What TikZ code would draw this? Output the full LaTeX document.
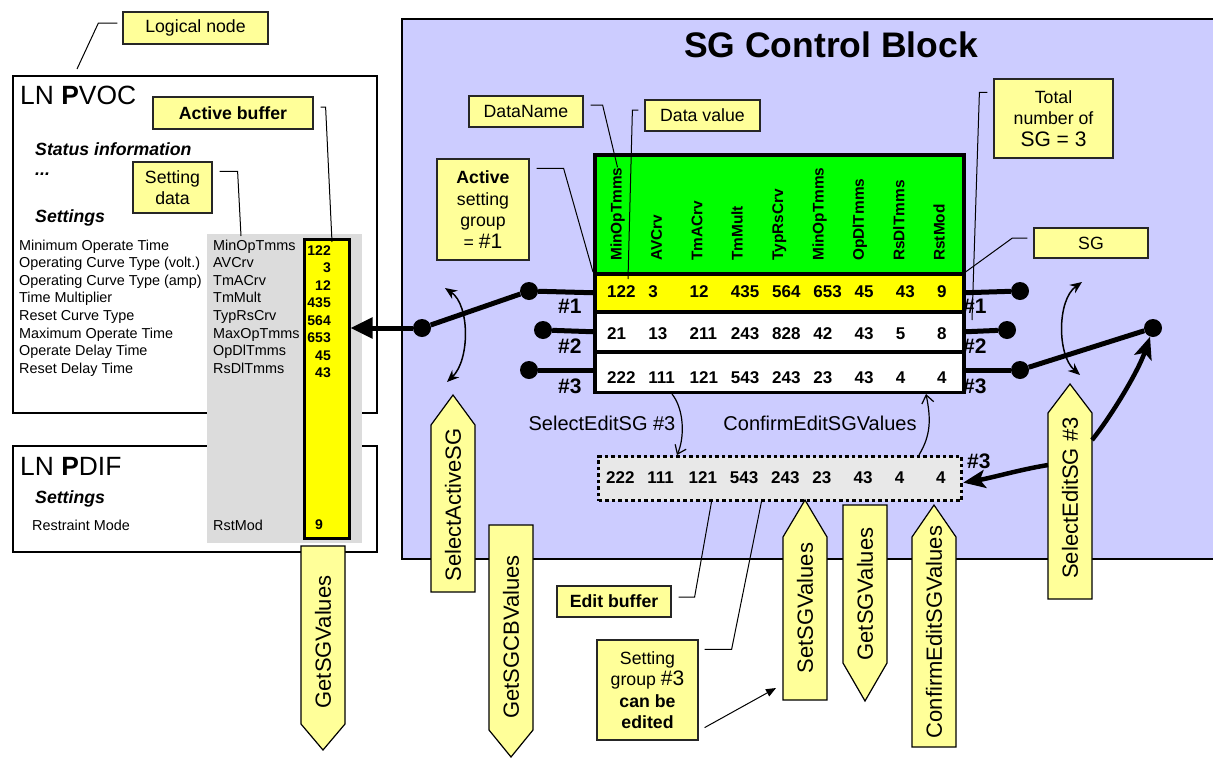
\documentclass[tikz,border=0pt]{standalone}
\usepackage{fontspec}
\setmainfont{Liberation Sans}
\usetikzlibrary{calc,positioning,arrows.meta}

\definecolor{notefill}{HTML}{FFFF99}
\definecolor{sgblue}{HTML}{CCCCFF}
\definecolor{colgray}{HTML}{DCDCDC}
\definecolor{editgray}{HTML}{E8E8E8}
\definecolor{hdrgreen}{HTML}{00FF00}
\definecolor{valyellow}{HTML}{FFFF00}

\tikzstyle{note} = [draw=black!85, line width=1.2, fill=notefill, inner sep=0, align=center, font=\fontsize{17.7}{21.5}\selectfont]
\tikzstyle{leader} = [line width=1]
\tikzstyle{txt} = [inner sep=0, anchor=base west]
\tikzstyle{dsc} = [txt, font=\fontsize{14.4}{16}\selectfont]
\tikzstyle{sec} = [txt, font=\fontsize{17.7}{20}\selectfont\bfseries\itshape]
\tikzstyle{lntitle} = [txt, font=\fontsize{26.4}{30}\selectfont]
\tikzstyle{lval} = [inner sep=0, anchor=base east, font=\fontsize{14}{16}\selectfont\bfseries]
\tikzstyle{val} = [txt, font=\fontsize{17}{20}\selectfont\bfseries]
\tikzstyle{hdr} = [txt, rotate=90, font=\fontsize{15.4}{18}\selectfont\bfseries]
\tikzstyle{grp} = [txt, font=\fontsize{21}{24}\selectfont\bfseries]
\tikzstyle{flow} = [inner sep=0, anchor=base, font=\fontsize{20}{24}\selectfont]
\tikzstyle{jdot} = [circle, fill=black, inner sep=0, minimum size=18]
\tikzstyle{wire} = [line width=5]
\tikzstyle{bigarrow} = [line width=5, -{Triangle[length=22pt,width=20pt]}]
\tikzstyle{fatarrow} = [line width=4.5, -{Stealth[length=22pt,width=18pt,inset=5pt]}]
\tikzstyle{swing} = [line width=1.5, {Stealth[length=12pt,width=10pt]}-{Stealth[length=12pt,width=10pt]}]
\tikzstyle{thinarrow} = [line width=1.2, -{Straight Barb[length=8pt,width=12pt]}]
\tikzstyle{smallarrow} = [line width=1, -{Triangle[length=10pt,width=8pt]}]
\tikzstyle{tabrow} = [draw, line width=3.5, minimum width=369, inner sep=0, anchor=north west]
\tikzstyle{cmdshape} = [draw=black, line width=1.2, fill=notefill]
\tikzstyle{cmdtext} = [inner sep=0, rotate=90, font=\fontsize{22}{24}\selectfont]

% command boxes: name, x left, tip y, shoulder y, tail y, text y, text
\newcommand{\cmdup}[7]{%
  \draw[cmdshape] (#2,#5) -- (#2,#4) -- (#2+22,#3) -- (#2+44,#4) -- (#2+44,#5) -- cycle;
  \node[cmdtext] (#1) at (#2+22,#6) {#7};
}
\newcommand{\cmddown}[7]{%
  \draw[cmdshape] (#2,#5) -- (#2,#4) -- (#2+22,#3) -- (#2+44,#4) -- (#2+44,#5) -- cycle;
  \node[cmdtext] (#1) at (#2+22,#6) {#7};
}

\begin{document}
\begin{tikzpicture}[x=1pt,y=-1pt]
  \useasboundingbox (0,0) rectangle (1213,758);

  % SG control block
  \node[draw, line width=2.2, fill=sgblue, minimum width=830, minimum height=540, inner sep=0, anchor=north west] (sgcb) at (401,18) {};
  \node[font=\fontsize{35.5}{40}\selectfont\bfseries, inner sep=0, anchor=base] (title) at (831,57) {SG Control Block};

  % logical nodes
  \node[draw, line width=2.2, minimum width=364, minimum height=337, inner sep=0, anchor=north west] (pvoc) at (12,75) {};
  \node[draw, line width=2.2, minimum width=364, minimum height=106, inner sep=0, anchor=north west] (pdif) at (12,445) {};
  \node[lntitle] (pvoct) at (20,104) {LN \textbf{P}VOC};
  \node[sec] (status) at (35,155) {Status information};
  \node[sec] (more) at (35,175) {...};
  \node[sec] (sett1) at (35,222) {Settings};
  \node[lntitle] (pdift) at (20,475) {LN \textbf{P}DIF};
  \node[sec] (sett2) at (35,503) {Settings};

  \node[fill=colgray, inner sep=0, minimum width=155, minimum height=309, anchor=north west] (setcol) at (207,234) {};
  \node[draw, line width=2.5, fill=valyellow, inner sep=0, minimum width=45, minimum height=299, anchor=north west] (buf) at (303,238) {};

  \foreach \d/\n/\v [count=\i from 0] in {Minimum Operate Time/MinOpTmms/122,Operating Curve Type (volt.)/AVCrv/3,Operating Curve Type (amp)/TmACrv/12,Time Multiplier/TmMult/435,Reset Curve Type/TypRsCrv/564,Maximum Operate Time/MaxOpTmms/653,Operate Delay Time/OpDlTmms/45,Reset Delay Time/RsDlTmms/43}{
    \node[dsc] (d\i) at (19,{250+17.6*\i}) {\d};
    \node[dsc] (n\i) at (213,{250+17.6*\i}) {\n};
    \node[lval] (v\i) at (331,{255+17.5*\i}) {\v};
  }
  \node[dsc] (rdesc) at (32,530) {Restraint Mode};
  \node[dsc] (rname) at (213,530) {RstMod};
  \node[lval, anchor=base] (rval) at (319,529) {9};

  % setting group table
  \node[tabrow, fill=hdrgreen, minimum height=119] (hdr) at (593,153) {};
  \node[tabrow, fill=valyellow, minimum height=38] (row1) at (593,272) {};
  \node[tabrow, fill=white, minimum height=40] (row2) at (593,310) {};
  \node[tabrow, fill=white, minimum height=40.5] (row3) at (593,350) {};
  \foreach \h [count=\c from 0] in {MinOpTmms,AVCrv,TmACrv,TmMult,TypRsCrv,MinOpTmms,OpDlTmms,RsDlTmms,RstMod}
    \node[hdr] (h\c) at ({621.5+40.4*\c},261) {\h};
  \foreach \y/\vals [count=\r] in {297/{122,3,12,435,564,653,45,43,9},339.5/{21,13,211,243,828,42,43,5,8},383/{222,111,121,543,243,23,43,4,4}}
    \foreach \v [count=\c from 0] in \vals
      \node[val] (g\r-\c) at ({607+41.25*\c},\y) {\v};

  % edit buffer
  \node[draw, line width=3.2, dash pattern=on 3.5pt off 3pt, fill=editgray, minimum width=363, minimum height=44, inner sep=0, anchor=north west] (editrow) at (597,455) {};
  \foreach \v [count=\c from 0] in {222,111,121,543,243,23,43,4,4}
    \node[val] (e\c) at ({606+41.25*\c},483) {\v};

  % group labels
  \node[grp] (gl1) at (558,313) {\#1};
  \node[grp] (gl2) at (558,353) {\#2};
  \node[grp] (gl3) at (558,393) {\#3};
  \node[grp] (gr1) at (963,313) {\#1};
  \node[grp] (gr2) at (963,353) {\#2};
  \node[grp] (gr3) at (963,393) {\#3};
  \node[grp] (ge3) at (967,468) {\#3};

  % switches
  \node[jdot] (l1) at (529,291) {};
  \node[jdot] (l2) at (543,330) {};
  \node[jdot] (l3) at (529,370) {};
  \node[jdot] (lp) at (422,328) {};
  \node[jdot] (r1) at (1020,291) {};
  \node[jdot] (r2) at (1007,330) {};
  \node[jdot] (r3) at (1020,370) {};
  \node[jdot] (rp) at (1153,328) {};
  \draw[wire] (l1) -- (row1.west);
  \draw[wire] (l2) -- (row2.west);
  \draw[wire] (l3) -- (l3 -| row3.west);
  \draw[wire] (lp) -- (l1);
  \draw[bigarrow] (lp) -- (lp -| buf.east);
  \draw[wire] (row1.east) -- (r1);
  \draw[wire] (row2.east) -- (r2);
  \draw[wire] (r3 -| row3.east) -- (r3);
  \draw[wire] (r3) -- (rp);
  \draw[swing] (445,288) .. controls (470,305) and (470,360) .. (447,382);
  \draw[swing] (1082,282) .. controls (1057,300) and (1057,355) .. (1080,375);

  % edit flow
  \node[flow] (selLbl) at (602,430) {SelectEditSG \#3};
  \node[flow] (confLbl) at (820,430) {ConfirmEditSGValues};
  \draw[thinarrow] ([xshift=79pt]row3.south west) .. controls +(12,15) and +(8,-18) .. ([xshift=80pt]editrow.north west);
  \draw[thinarrow] ([xshift=322pt]editrow.north west) .. controls +(12,-20) and +(5,25) .. ([xshift=333pt]row3.south west);

  % commands
  \cmddown{getsgv}{301}{750}{724}{546}{642}{GetSGValues}
  \cmdup{selact}{431}{395}{425}{592}{505}{SelectActiveSG}
  \cmddown{getcb}{489}{757}{730}{525}{637}{GetSGCBValues}
  \cmdup{setsgv}{783}{500}{537}{700}{608}{SetSGValues}
  \cmddown{getsgv2}{843}{701}{663}{505}{594}{GetSGValues}
  \cmdup{confirm}{912}{505}{537}{747}{632}{ConfirmEditSGValues}
  \cmdup{seledit}{1048}{384}{413}{599}{498}{SelectEditSG \#3}
  \coordinate (seW) at (1048,465);
  \coordinate (seE) at (1092,440);
  \draw[fatarrow] (seW) .. controls +(-30,5) and +(30,-5) .. ([yshift=-4pt]editrow.east);
  \draw[fatarrow] (seE) .. controls (1110,418) and (1138,372) .. (rp);

  % notes
  \node[note, minimum width=145, minimum height=32] (lnnote) at (195.5,28) {Logical node};
  \node[note, minimum width=160, minimum height=32] (actbuf) at (233,113) {\textbf{Active buffer}};
  \node[note, minimum width=79, minimum height=51] (setdata) at (172.5,187.5) {Setting\\data};
  \node[note, minimum width=114, minimum height=31] (dname) at (526,111.5) {DataName};
  \node[note, minimum width=115, minimum height=31] (dval) at (702.5,115.5) {Data value};
  \node[note, minimum width=92, minimum height=101] (actsg) at (483,209.5) {\textbf{Active}\\setting\\group\\= {\fontsize{21}{22}\selectfont\#1}};
  \node[note, minimum width=119, minimum height=79] (total) at (1053.5,118.5) {Total\\number of\\{\fontsize{21}{22}\selectfont SG = 3}};
  \node[note, minimum width=114, minimum height=30] (sgnote) at (1091,243) {SG};
  \node[note, minimum width=114, minimum height=31] (editnote) at (614,601.5) {\textbf{Edit buffer}};
  \node[note, minimum width=101, minimum height=100] (canedit) at (647.5,690) {Setting\\group {\fontsize{21}{22}\selectfont\#3}\\\textbf{can be}\\\textbf{edited}};

  \coordinate (lnend) at (77,69);
  \coordinate (abend) at (332,242);
  \coordinate (sdend) at (241,236);
  \coordinate (dvend) at (628,279);
  \coordinate (totend) at (972,320);
  \coordinate (ebend) at (712,499);
  \coordinate (ceend) at (762,499);
  \coordinate (setend) at (776,688);
  \draw[leader] (lnnote.west) ++(-5,-5) -- ++(-19,0) -- (lnend);
  \draw[leader] (actbuf.east) ++(7,-6) -- ++(5,0) -- (abend);
  \draw[leader] (setdata.north east) ++(7,10) -- ++(18,0) -- (sdend);
  \draw[leader] (dname.east) ++(7,-6.5) -- ++(12,0) -- (h0.east);
  \draw[leader] (dval.west) ++(-6,-5.5) -- ++(-6,0) -- (dvend);
  \draw[leader] (actsg.north east) ++(7,10) -- ++(27,0) -- (row1.north west);
  \draw[leader] (total.north west) ++(-6,14) -- ++(-8,0) -- (totend);
  \draw[leader] (sgnote.west) ++(-6,-5) -- ++(-15,0) -- (row1.north east);
  \draw[leader] (editnote.east) ++(7,-4.5) -- ++(16,0) -- (ebend);
  \draw[leader] (canedit.north east) ++(6,10) -- ++(27,0) -- (ceend);
  \draw[smallarrow] ([shift={(6pt,13pt)}]canedit.south east) -- (setend);
\end{tikzpicture}
\end{document}
